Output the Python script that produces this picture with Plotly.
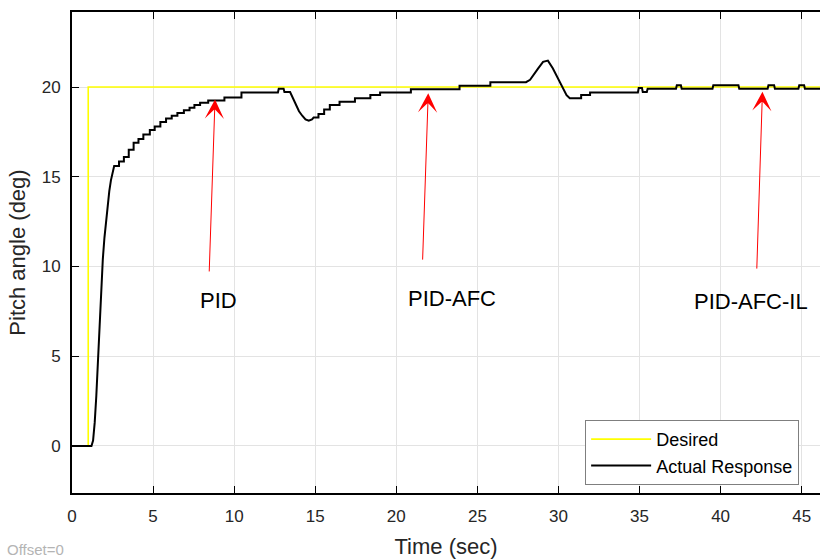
import plotly.graph_objects as go

# Desired (reference) step signal
t_desired = [0, 1.0, 1.0, 46.2]
pitch_desired = [0, 0, 20, 20]

# Actual response (stair corners listed explicitly)
t_actual = [0, 1.2, 1.3, 1.4, 1.5, 1.6, 1.7, 1.8, 1.9, 2.0, 2.1, 2.2, 2.3, 2.4, 2.5, 2.6,
            2.9, 2.9, 3.2, 3.2, 3.5, 3.5, 3.8, 3.8, 4.1, 4.1, 4.4, 4.4, 4.8, 4.8, 5.1, 5.1,
            5.45, 5.45, 5.8, 5.8, 6.15, 6.15, 6.5, 6.5, 6.9, 6.9, 7.25, 7.25, 7.55, 7.55,
            7.9, 7.9, 8.4, 8.4, 9.4, 9.4, 10.45, 10.45, 12.7, 12.75, 13.05, 13.1, 13.45,
            13.6, 13.8, 14.0, 14.2, 14.4, 14.6, 14.8,
            14.9, 15.2, 15.2, 15.55, 15.55, 15.9, 15.9, 16.5, 16.5, 17.45, 17.45, 18.4, 18.4,
            19.0, 19.0, 20.9, 20.9, 23.9, 23.9, 25.8, 25.8, 28.0,
            28.25, 28.45, 28.75, 29.05, 29.35, 29.65, 29.95, 30.2, 30.5, 30.7,
            31.4, 31.4, 31.95, 31.95, 34.9, 34.95, 35.15, 35.2, 35.45, 35.5, 37.25, 37.3,
            37.55, 37.6, 39.5, 39.55, 41.1, 41.15, 42.9, 42.95, 43.3, 43.35, 44.8, 44.85,
            45.15, 45.2, 46.2]
pitch_actual = [0, 0, 0.3, 1.3, 2.8, 4.8, 7.0, 8.9, 10.4, 11.6, 12.6, 13.5, 14.2, 14.8, 15.25, 15.6,
                15.6, 15.85, 15.85, 16.1, 16.1, 16.5, 16.5, 16.9, 16.9, 17.1, 17.1, 17.35, 17.35, 17.6, 17.6, 17.8,
                17.8, 18.05, 18.05, 18.25, 18.25, 18.4, 18.4, 18.55, 18.55, 18.7, 18.7, 18.85, 18.85, 19.0,
                19.0, 19.12, 19.12, 19.25, 19.25, 19.42, 19.42, 19.7, 19.7, 19.9, 19.9, 19.72, 19.72,
                19.4, 19.0, 18.65, 18.4, 18.2, 18.12, 18.2,
                18.3, 18.3, 18.5, 18.5, 18.75, 18.75, 19.0, 19.0, 19.18, 19.18, 19.37, 19.37, 19.55,
                19.55, 19.7, 19.7, 19.87, 19.87, 20.07, 20.07, 20.27, 20.27,
                20.4, 20.67, 21.04, 21.4, 21.47, 21.05, 20.5, 20.02, 19.55, 19.37,
                19.37, 19.55, 19.55, 19.7, 19.7, 19.95, 19.95, 19.72, 19.72, 19.9, 19.9, 20.1,
                20.1, 19.9, 19.9, 20.1, 20.1, 19.9, 19.9, 20.1, 20.1, 19.9, 19.9, 20.1,
                20.1, 19.9, 19.9]

x_ticks = [0, 5, 10, 15, 20, 25, 30, 35, 40, 45]
y_ticks = [0, 5, 10, 15, 20]

labels = ["PID", "PID-AFC", "PID-AFC-IL"]
label_t = [9.02, 23.41, 41.9]
label_v = [8.13, 8.23, 8.04]
arrow_tip_t = [8.82, 21.97, 42.58]
arrow_tip_v = [19.3, 19.65, 19.74]
arrow_tail_t = [8.46, 21.62, 42.23]
arrow_tail_v = [9.64, 10.3, 9.8]

FONT = "Liberation Sans, Arial, Helvetica, sans-serif"

fig = go.Figure()
fig.add_trace(go.Scatter(x=t_desired, y=pitch_desired, mode="lines", name="Desired",
                         line=dict(color="#FFFF00", width=1.6)))
fig.add_trace(go.Scatter(x=t_actual, y=pitch_actual, mode="lines", name="Actual Response",
                         line=dict(color="#000000", width=2)))

annotations = []
for tt, vv, ht, hv in zip(arrow_tail_t, arrow_tail_v, arrow_tip_t, arrow_tip_v):
    annotations.append(dict(x=ht, y=hv, ax=tt, ay=vv, xref="x", yref="y", axref="x", ayref="y",
                            text="", showarrow=True, arrowhead=3, arrowsize=3.2, arrowwidth=1,
                            arrowcolor="#FF0000", standoff=0))
for lab, tt, vv in zip(labels, label_t, label_v):
    annotations.append(dict(x=tt, y=vv, xref="x", yref="y", text=lab, showarrow=False,
                            font=dict(family=FONT, size=22, color="#000000"),
                            xanchor="center", yanchor="middle"))
annotations.append(dict(x=-0.0896, y=-0.1185, xref="paper", yref="paper", text="Offset=0",
                        showarrow=False, font=dict(family=FONT, size=15, color="#b4b4b4"),
                        xanchor="left", yanchor="middle"))

fig.update_layout(
    width=820, height=559,
    margin=dict(l=72, r=0, t=12, b=66),
    plot_bgcolor="white", paper_bgcolor="white",
    font=dict(family=FONT, size=17, color="#262626"),
    showlegend=True,
    legend=dict(x=0.686, y=0.152, xanchor="left", yanchor="top",
                bgcolor="white", bordercolor="#7f7f7f", borderwidth=1,
                font=dict(family=FONT, size=18, color="#000000"),
                tracegroupgap=0, itemwidth=60),
    annotations=annotations,
)
fig.update_xaxes(range=[0, 46.13], tickvals=x_ticks, ticks="inside", ticklen=7, tickwidth=1,
                 tickcolor="black", showline=True, linecolor="black", linewidth=2, mirror="ticks",
                 showgrid=True, gridcolor="#e3e3e3", gridwidth=1, zeroline=False,
                 tickfont=dict(family=FONT, size=17, color="#262626"), ticklabelstandoff=7,
                 title=dict(text="Time (sec)", font=dict(family=FONT, size=22, color="#262626"),
                            standoff=13))
fig.update_yaxes(range=[-2.62, 24.18], tickvals=y_ticks, ticks="inside", ticklen=7, tickwidth=1,
                 tickcolor="black", showline=True, linecolor="black", linewidth=2,
                 showgrid=True, gridcolor="#e3e3e3", gridwidth=1, zeroline=False,
                 tickfont=dict(family=FONT, size=17, color="#262626"), ticklabelstandoff=6,
                 title=dict(text="Pitch angle (deg)", font=dict(family=FONT, size=22, color="#262626"),
                            standoff=10))

fig.write_html("out.html")
